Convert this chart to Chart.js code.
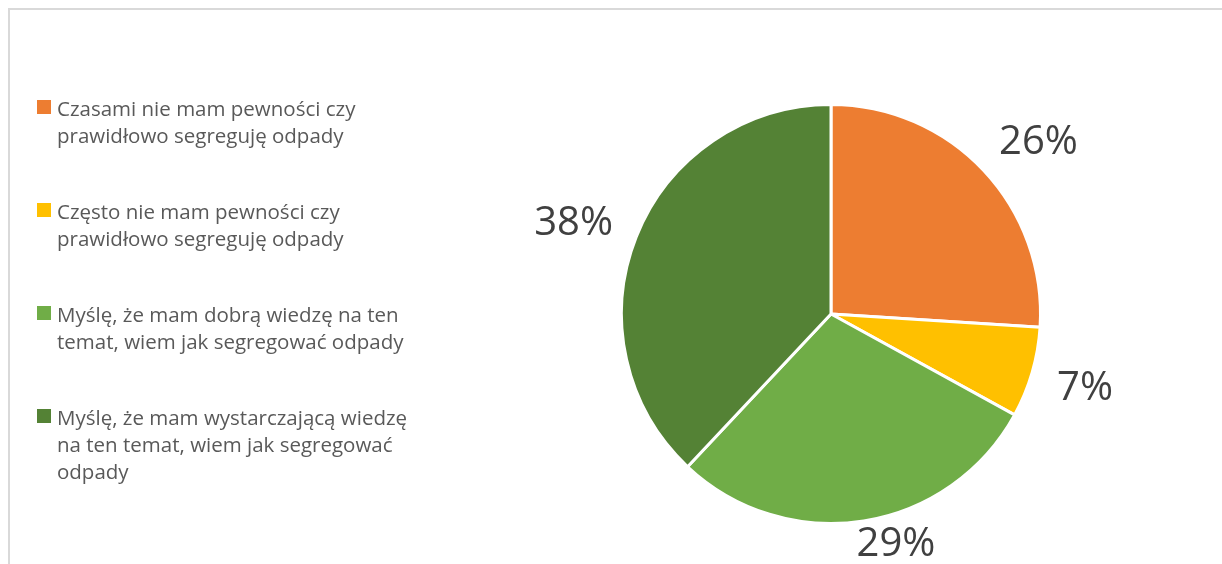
<!DOCTYPE html>
<html lang="pl">
  <head>
    <meta charset="UTF-8" />
    <title>Segregacja odpadów</title>
    <script src="https://cdn.jsdelivr.net/npm/chart.js@4"></script>
    <style>
      body {
        margin: 0;
        background-color: #ffffff;
        font-family: "Open Sans", sans-serif;
        overflow: hidden;
      }

      .frame {
        position: absolute;
        left: 8px;
        top: 8px;
        width: 1400px;
        height: 800px;
        border: 2px solid #d9d9d9;
      }

      .chart-box {
        position: absolute;
        left: 0;
        top: 0;
        width: 1222px;
        height: 564px;
      }

      #legend {
        position: absolute;
        left: 37px;
        top: 95px;
        margin: 0;
        padding: 0;
        list-style: none;
        z-index: 2;
      }

      #legend li {
        position: relative;
        padding-left: 20px;
        width: 370px;
        font-size: 20.5px;
        line-height: 27px;
        color: #595959;
        margin-bottom: 49px;
      }

      #legend li span {
        position: absolute;
        left: 0;
        top: 5px;
        width: 14px;
        height: 14px;
      }
    </style>
  </head>
  <body>
    <div class="frame"></div>
    <ul id="legend"></ul>
    <div class="chart-box">
      <canvas id="pieChart" width="1222" height="564"></canvas>
    </div>
    <script>
      const categories = [
        "Czasami nie mam pewności czy prawidłowo segreguję odpady",
        "Często nie mam pewności czy prawidłowo segreguję odpady",
        "Myślę, że mam dobrą wiedzę na ten temat, wiem jak segregować odpady",
        "Myślę, że mam wystarczającą wiedzę na ten temat, wiem jak segregować odpady",
      ];
      const shares = [26, 7, 29, 38];
      const sliceColors = ["#ED7D31", "#FFC000", "#70AD47", "#548235"];

      // percentage labels outside the slices, roughly like Excel "outside end"
      const outsideLabels = {
        id: "outsideLabels",
        afterDatasetsDraw(chart) {
          const ctx = chart.ctx;
          const meta = chart.getDatasetMeta(0);
          const total = shares.reduce((a, b) => a + b, 0);
          const capH = 29;
          ctx.save();
          ctx.font = "40px 'Open Sans', sans-serif";
          ctx.fillStyle = "#404040";
          ctx.textAlign = "center";
          ctx.textBaseline = "alphabetic";
          meta.data.forEach((arc, i) => {
            const p = arc.getProps(["x", "y", "startAngle", "endAngle", "outerRadius"], true);
            const mid = (p.startAngle + p.endAngle) / 2;
            const dx = Math.cos(mid);
            const dy = Math.sin(mid);
            const text = Math.round((shares[i] / total) * 100) + "%";
            const w = ctx.measureText(text).width;
            const ex = p.x + dx * p.outerRadius;
            const ey = p.y + dy * p.outerRadius;
            const cx = ex + dx * w / 2 + Math.sign(dx) * 26;
            let cy = ey + dy * 45;
            const maxY = chart.height - 8 - capH / 2;
            if (cy > maxY) cy = maxY;
            ctx.fillText(text, cx, cy + capH / 2);
          });
          ctx.restore();
        },
      };

      const ctx = document.getElementById("pieChart").getContext("2d");
      const pieChart = new Chart(ctx, {
        type: "pie",
        data: {
          labels: categories,
          datasets: [
            {
              data: shares,
              backgroundColor: sliceColors,
              borderColor: "#ffffff",
              borderWidth: 3,
            },
          ],
        },
        options: {
          responsive: false,
          animation: false,
          layout: {
            padding: {left: 620, right: 180, top: 103, bottom: 39},
          },
          plugins: {
            legend: {display: false},
            tooltip: {enabled: false},
          },
        },
        plugins: [outsideLabels],
      });

      // legend built from the chart data
      const legendEl = document.getElementById("legend");
      pieChart.data.labels.forEach((label, i) => {
        const li = document.createElement("li");
        const box = document.createElement("span");
        box.style.backgroundColor = pieChart.data.datasets[0].backgroundColor[i];
        li.appendChild(box);
        li.appendChild(document.createTextNode(label));
        legendEl.appendChild(li);
      });
    </script>
  </body>
</html>
